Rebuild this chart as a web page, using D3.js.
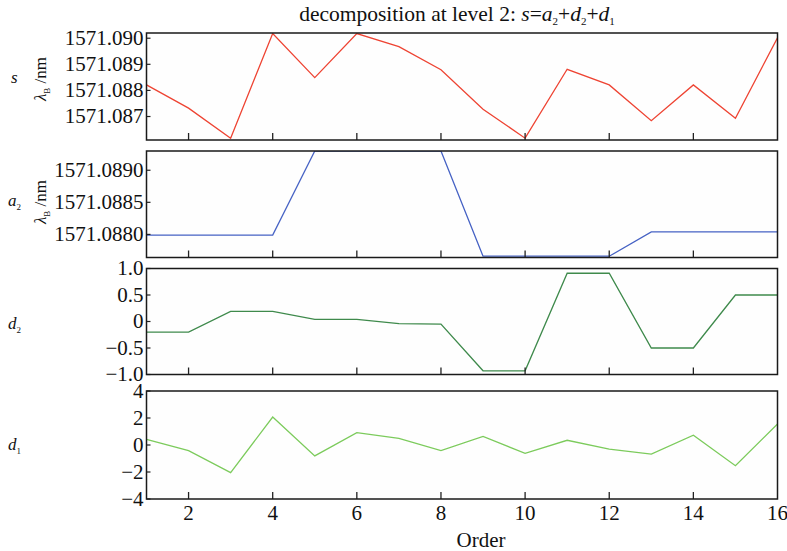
<!DOCTYPE html>
<html>
<head>
<meta charset="utf-8">
<script src="https://cdn.jsdelivr.net/npm/d3@7"></script>
<style>
  body { margin: 0; background: #fff; }
  text { font-family: "Liberation Serif", "Times New Roman", serif; fill: #111; }
</style>
</head>
<body>
<svg class="decomp"></svg>
<script>
let order = [1,2,3,4,5,6,7,8,9,10,11,12,13,14,15,16];
let sVals  = [1571.08821,1571.08732,1571.08617,1571.09018,1571.08849,1571.09018,1571.08968,1571.08879,
              1571.08728,1571.08617,1571.08881,1571.08821,1571.08684,1571.08821,1571.08693,1571.09002];
let a2Vals = [1571.08799,1571.08799,1571.08799,1571.08799,1571.0893,1571.0893,1571.0893,1571.0893,
              1571.08766,1571.08766,1571.08766,1571.08766,1571.08804,1571.08804,1571.08804,1571.08804];
let d2Vals = [-0.2,-0.2,0.19,0.19,0.04,0.04,-0.04,-0.05,-0.93,-0.93,0.91,0.91,-0.5,-0.5,0.5,0.5];
let d1Vals = [0.42,-0.42,-2.05,2.07,-0.81,0.91,0.49,-0.42,0.64,-0.62,0.35,-0.3,-0.67,0.72,-1.53,1.56];

let xTicks = [2,4,6,8,10,12,14,16];
let sTicks = [1571.087,1571.088,1571.089,1571.090];
let a2Ticks = [1571.0880,1571.0885,1571.0890];
let d2Ticks = [-1,-0.5,0,0.5,1];
let d1Ticks = [-4,-2,0,2,4];

let width = 787, height = 551;
let svg = d3.select(".decomp").attr("width", width).attr("height", height);

let left = 146.5, right = 777.5;
let x = d3.scaleLinear().domain([1,16]).range([left, right]);

function fmtNum(v) {
  if (v === 0) return "0";
  return (v < 0 ? "\u2212" : "") + Math.abs(v).toString();
}

let panels = [
  {name: "s", sub: null, vals: sVals, ticks: sTicks, domain: [1571.0861,1571.0902], top: 33, bottom: 140,
   color: "#ee4433", fmt: d3.format(".3f"), ylab: true, labY: 79},
  {name: "a", sub: "2", vals: a2Vals, ticks: a2Ticks, domain: [1571.08764,1571.0893], top: 151, bottom: 257.5,
   color: "#4662c4", fmt: d3.format(".4f"), ylab: true, labY: 202},
  {name: "d", sub: "2", vals: d2Vals, ticks: d2Ticks, domain: [-1,1], top: 268.5, bottom: 374.5,
   color: "#3f8a4c", fmt: v => v === 0 ? "0" : (v < 0 ? "\u2212" : "") + d3.format(".1f")(Math.abs(v)), ylab: false, labY: 325},
  {name: "d", sub: "1", vals: d1Vals, ticks: d1Ticks, domain: [-4,4], top: 391, bottom: 499,
   color: "#7ccb5c", fmt: fmtNum, ylab: false, labY: 446}
];

panels.forEach(function(p, i) {
  let y = d3.scaleLinear().domain(p.domain).range([p.bottom, p.top]);
  let g = svg.append("g");
  let clipId = "clip" + i;
  svg.append("clipPath").attr("id", clipId).append("rect")
    .attr("x", left).attr("y", p.top).attr("width", right - left).attr("height", p.bottom - p.top);

  g.append("rect").attr("x", left).attr("y", p.top).attr("width", right - left).attr("height", p.bottom - p.top)
    .attr("fill", "#fefefe");

  let line = d3.line().x((d, j) => x(order[j])).y(d => y(d));
  g.append("path").datum(p.vals).attr("d", line).attr("fill", "none")
    .attr("stroke", p.color).attr("stroke-width", 1.3).attr("clip-path", "url(#" + clipId + ")");

  // x ticks, inward from bottom
  g.selectAll(".xt").data(xTicks.filter(t => t < 16)).enter().append("line")
    .attr("x1", d => x(d)).attr("x2", d => x(d))
    .attr("y1", p.bottom).attr("y2", p.bottom - 7)
    .attr("stroke", "#222").attr("stroke-width", 1.3);

  // y ticks, inward from left
  g.selectAll(".yt").data(p.ticks).enter().append("line")
    .attr("x1", left).attr("x2", left + 4)
    .attr("y1", d => y(d)).attr("y2", d => y(d))
    .attr("stroke", "#222").attr("stroke-width", 1.2);

  g.selectAll(".yl").data(p.ticks).enter().append("text")
    .attr("x", left - 3).attr("y", d => y(d)).attr("dy", "0.33em")
    .attr("text-anchor", "end").attr("font-size", 21)
    .text(d => p.fmt(d));

  g.append("rect").attr("x", left).attr("y", p.top).attr("width", right - left).attr("height", p.bottom - p.top)
    .attr("fill", "none").attr("stroke", "#1a1a1a").attr("stroke-width", 1.5);

  // series name on the left
  let nm = svg.append("text").attr("x", p.sub ? 8 : 11).attr("y", p.labY + 4)
    .attr("font-size", 17).attr("font-style", "italic");
  nm.append("tspan").text(p.name);
  if (p.sub) nm.append("tspan").attr("dy", 4).attr("font-size", 9).attr("font-style", "normal").text(p.sub);

  if (p.ylab) {
    let yl = svg.append("text").attr("transform", "translate(46," + p.labY + ") rotate(-90)")
      .attr("text-anchor", "middle").attr("font-size", 17);
    yl.append("tspan").attr("font-style", "italic").text("\u03bb");
    yl.append("tspan").attr("font-size", 9).attr("dy", 4).text("B");
    yl.append("tspan").attr("dy", -4).text(" /nm");
  }
});

// bottom x labels
svg.selectAll(".xl").data(xTicks).enter().append("text")
  .attr("x", d => x(d)).attr("y", 520).attr("text-anchor", "middle").attr("font-size", 21)
  .text(d => d);

svg.append("text").attr("x", 481).attr("y", 547).attr("text-anchor", "middle")
  .attr("font-size", 21).text("Order");

// title
let title = svg.append("text").attr("x", 457).attr("y", 21).attr("text-anchor", "middle").attr("font-size", 21.5);
title.append("tspan").text("decomposition at level 2: ");
title.append("tspan").attr("font-style", "italic").text("s");
title.append("tspan").text("=");
title.append("tspan").attr("font-style", "italic").text("a");
title.append("tspan").attr("font-size", 11).attr("dy", 4).text("2");
title.append("tspan").attr("dy", -4).text("+");
title.append("tspan").attr("font-style", "italic").text("d");
title.append("tspan").attr("font-size", 11).attr("dy", 4).text("2");
title.append("tspan").attr("dy", -4).text("+");
title.append("tspan").attr("font-style", "italic").text("d");
title.append("tspan").attr("font-size", 11).attr("dy", 4).text("1");
</script>
</body>
</html>
